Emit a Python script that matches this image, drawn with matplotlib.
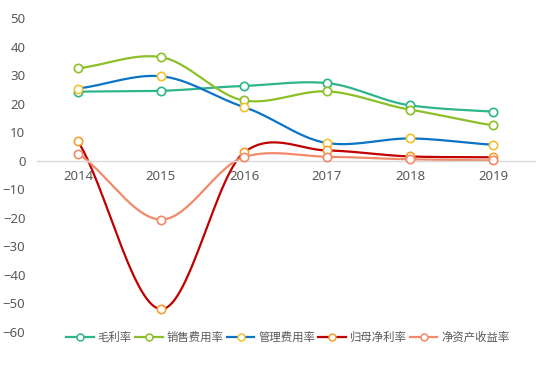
import numpy as np
import matplotlib.pyplot as plt
from matplotlib.lines import Line2D

plt.rcParams['font.family'] = ['Noto Sans CJK SC', 'DejaVu Sans']

years = ['2014', '2015', '2016', '2017', '2018', '2019']
gross_margin = [24.2, 24.5, 26.2, 27.2, 19.4, 17.2]
sales_exp = [32.4, 36.3, 21.1, 24.3, 17.9, 12.4]
admin_exp = [25.3, 29.6, 18.8, 6.2, 7.8, 5.6]
net_margin = [6.8, -52.0, 2.9, 3.6, 1.5, 1.2]
roe = [2.5, -20.6, 1.3, 1.4, 0.5, 0.1]

series = [
    ('毛利率', gross_margin, '#2DB58C', '#2DB58C'),
    ('销售费用率', sales_exp, '#8DC028', '#8DC028'),
    ('管理费用率', admin_exp, '#0B74C6', '#F2C12E'),
    ('归母净利率', net_margin, '#C00000', '#F5A02C'),
    ('净资产收益率', roe, '#F08A68', '#F08A68'),
]


def smooth(x, y, n=30, k=0.8):
    # catmull-rom style curve through the points (for drawing only)
    x = np.asarray(x, float)
    y = np.asarray(y, float)
    m = np.zeros_like(y)
    m[1:-1] = (y[2:] - y[:-2]) / 2 * k
    m[0] = (y[1] - y[0]) * k
    m[-1] = (y[-1] - y[-2]) * k
    xs, ys = [], []
    for i in range(len(x) - 1):
        t = np.linspace(0, 1, n, endpoint=(i == len(x) - 2))
        h00 = 2 * t**3 - 3 * t**2 + 1
        h10 = t**3 - 2 * t**2 + t
        h01 = -2 * t**3 + 3 * t**2
        h11 = t**3 - t**2
        xs.append(x[i] + t * (x[i + 1] - x[i]))
        ys.append(h00 * y[i] + h10 * m[i] + h01 * y[i + 1] + h11 * m[i + 1])
    return np.concatenate(xs), np.concatenate(ys)


fig = plt.figure(figsize=(5.5, 3.8), dpi=100)
ax = fig.add_axes([36.5 / 550, 48 / 380, 498 / 550, 314 / 380])

xpos = np.arange(len(years))
handles = []
for name, vals, col, mcol in series:
    sx, sy = smooth(xpos, vals)
    ax.plot(sx, sy, color=col, lw=1.6, zorder=2)
    ax.plot(xpos, vals, 'o', ms=6, mfc='white', mec=mcol, mew=1.2, zorder=3)
    handles.append(Line2D([], [], color=col, lw=1.6, marker='o', ms=5,
                          mfc='white', mec=mcol, mew=1.1, label=name))

ax.set_xlim(-0.5, len(years) - 0.5)
ax.set_ylim(-60, 50)
ax.set_yticks(range(-60, 51, 10))
ax.set_xticks(xpos)
ax.set_xticklabels(years)

for s in ['top', 'right', 'left']:
    ax.spines[s].set_visible(False)
ax.spines['bottom'].set_position(('data', 0))
ax.spines['bottom'].set_color('#D9D9D9')
ax.spines['bottom'].set_linewidth(1)
ax.tick_params(axis='both', length=0, labelsize=9.5, colors='#595959')
ax.tick_params(axis='x', pad=7)
ax.tick_params(axis='y', pad=8)
for lab in ax.get_xticklabels() + ax.get_yticklabels():
    lab.set_fontfamily(['Noto Sans', 'DejaVu Sans'])

fig.legend(handles=handles, loc='center', bbox_to_anchor=(288 / 550, 1 - 337 / 380),
           ncol=5, frameon=False, fontsize=8.2, handlelength=2.4,
           handletextpad=0.35, columnspacing=0.3, labelcolor='#595959')

fig.savefig('out.png', dpi=100)
